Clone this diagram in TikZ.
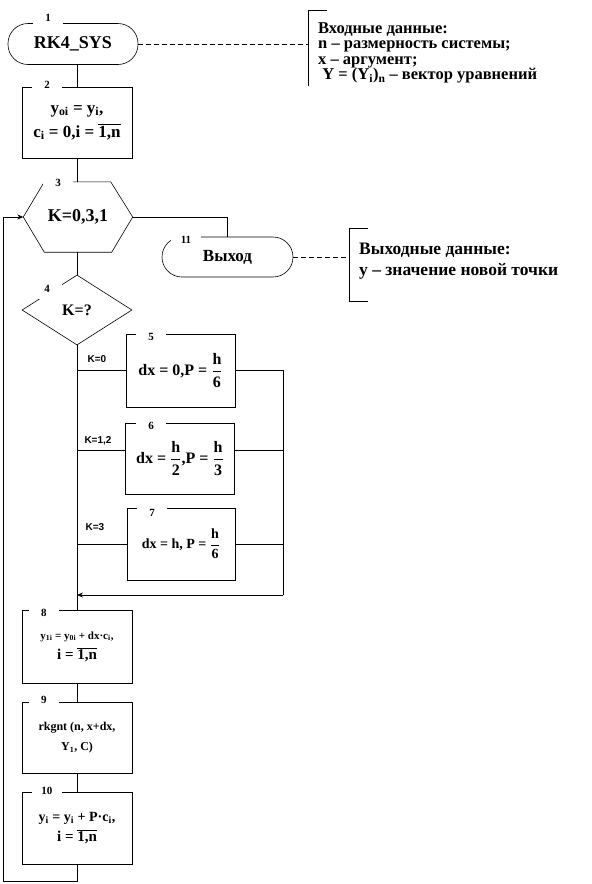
\documentclass[tikz,border=0pt]{standalone}
\usepackage{fontspec}
\setmainfont{Liberation Serif}
\newfontfamily\sanslab{Liberation Sans}
\usetikzlibrary{shapes.geometric,arrows.meta,calc}
\newcommand\myfrac[2]{$\displaystyle\frac{\mbox{#1}}{\mbox{#2}}$}
\newcommand\ovl[1]{$\overline{\mbox{#1}}$}
\begin{document}
\begin{tikzpicture}[x=1pt,y=-1pt,
  every node/.style={inner sep=0pt},
  ln/.style={line width=0.6pt},
  blk/.style={draw, line width=0.6pt, minimum width=110pt, minimum height=72pt, align=center, font=\bfseries\fontsize{16}{24}\selectfont},
  term/.style={draw, line width=0.6pt, rounded corners=20pt, minimum width=130pt, minimum height=41pt, font=\bfseries\fontsize{18}{20}\selectfont},
  numlab/.style={fill=white, minimum width=30pt, minimum height=13pt, font=\bfseries\fontsize{11}{12}\selectfont},
  klab/.style={font=\sanslab\bfseries\fontsize{10}{12}\selectfont},
  note/.style={align=left, anchor=north west},
  arr/.style={-{Stealth[length=6pt,width=5pt]}},
  dsh/.style={line width=0.6pt, dash pattern=on 5pt off 3pt}
]
\useasboundingbox (0,0) rectangle (592,884);

% nodes
\node[term] (n1) at (73,44) {RK4\_SYS};
\node[blk, minimum height=71pt, font=\bfseries\fontsize{17}{24}\selectfont] (n2) at (77,122.5) {y\textsubscript{oi} = y\textsubscript{i},\\ c\textsubscript{i} = 0,i = \ovl{1,n}};
\node[minimum width=109pt, minimum height=70pt, font=\bfseries\fontsize{18}{20}\selectfont] (n3) at (78,217) {\raisebox{3pt}{K=0,3,1}};
\draw[ln] (n3.west) -- ([xshift=21pt]n3.north west) -- ([xshift=-22pt]n3.north east) -- (n3.east) -- ([xshift=-21pt]n3.south east) -- ([xshift=21pt]n3.south west) -- cycle;
\node[draw, ln, diamond, shape aspect=1.57, minimum width=110pt, minimum height=70pt, font=\bfseries\fontsize{16}{20}\selectfont] (n4) at (77,310) {K=?};
\node[blk, minimum width=109pt, minimum height=73pt] (n5) at (180.5,370.5) {dx = 0,P = \myfrac{h}{6}};
\node[blk, minimum width=109pt, minimum height=71pt] (n6) at (180,458.5) {dx = \myfrac{h}{2},P = \myfrac{h}{3}};
\node[blk, minimum width=108pt, minimum height=72pt, font=\bfseries\fontsize{14}{18}\selectfont] (n7) at (181,544) {dx = h, P = \myfrac{h}{6}};
\node[blk, minimum height=73pt, font=\bfseries\fontsize{11}{20}\selectfont] (n8) at (77,646.5) {y\textsubscript{1i} = y\textsubscript{0i} + dx·c\textsubscript{i},\\ {\fontsize{15}{18}\selectfont i = \ovl{1,n}}};
\node[blk, minimum height=71pt, font=\bfseries\fontsize{12}{20}\selectfont] (n9) at (77,737.5) {rkgnt (n, x+dx,\\ Y\textsubscript{1}, C)};
\node[blk, minimum height=72pt, font=\bfseries\fontsize{14}{20}\selectfont] (n10) at (77,828) {y\textsubscript{i} = y\textsubscript{i} + P·c\textsubscript{i},\\ {\fontsize{15}{18}\selectfont i = \ovl{1,n}}};
\node[term, minimum width=131pt, minimum height=40pt, font=\bfseries\fontsize{17}{20}\selectfont] (n11) at (227.5,257) {Выход};

% number labels
\node[numlab] (l1) at (48,18) {1};
\node[numlab] (l2) at (47,85) {2};
\node[numlab] (l3) at (58,183) {3};
\node[numlab, minimum height=20pt] (l4) at (47,289) {4};
\node[numlab] (l5) at (151,337) {5};
\node[numlab] (l6) at (151,426) {6};
\node[numlab] (l7) at (152,513) {7};
\node[numlab] (l8) at (44,613) {8};
\node[numlab] (l9) at (44,700) {9};
\node[numlab] (l10) at (47,791) {10};
\node[numlab] (l11) at (186,240) {11};

% branch labels
\node[klab] (k0) at (97,359) {K=0};
\node[klab] (k12) at (98,441) {K=1,2};
\node[klab] (k3) at (95,527) {K=3};

% coordinates
\coordinate (b12) at ($(n6.west)+(0,-8.5)$);
\coordinate (rvb) at (283,595);
\coordinate (mrg) at (77,595);
\coordinate (lb) at (3,881);

% connectors
\draw[ln] (n1.south -| n2.north) -- (n2.north);
\draw[ln] (n2.south) -- (n2.south |- n3.north);
\draw[ln] (n3.south -| n4.north) -- (n4.north);
\draw[ln] (n4.south) -- (n8.north);
\draw[ln] (n4.south |- n5.west) -- (n5.west);
\draw[ln] (n4.south |- b12) -- (b12);
\draw[ln] (n4.south |- n7.west) -- (n7.west);
\draw[ln] (n5.east) -| (rvb);
\draw[ln] (n6.east |- b12) -- (b12 -| rvb);
\draw[ln] (n7.east) -- (n7.east -| rvb);
\draw[ln,arr] (rvb) -- (mrg);
\draw[ln] (n8.south) -- (n9.north);
\draw[ln] (n9.south) -- (n10.south |- n10.north);
\draw[ln,arr] (n10.south) -- (n10.south |- lb) -- (lb) -- (lb |- n3.west) -- (n3.west);
\draw[ln] (n3.east) -| (n11.north);

% comments
\coordinate (c1t) at (308,10);
\coordinate (c1b) at (308,86);
\coordinate (c1s) at (327,10);
\draw[ln] (c1s) -- (c1t) -- (c1b);
\draw[dsh] (n1.east) -- (n1.east -| c1t);
\node[note, font=\bfseries\fontsize{16.5}{15.5}\selectfont] (t1) at (318,22) {Входные данные:\\n – размерность системы;\\x – аргумент;\\\ Y = (Y\textsubscript{i})\textsubscript{n} – вектор уравнений};

\coordinate (c2t) at (349,228);
\coordinate (c2b) at (349,301);
\coordinate (c2s) at (368,228);
\coordinate (c2u) at (368,301);
\draw[ln] (c2s) -- (c2t) -- (c2b) -- (c2u);
\draw[dsh] (n11.east) -- (n11.east -| c2t);
\node[note, font=\bfseries\fontsize{17.5}{20.5}\selectfont] (t2) at (359,243) {Выходные данные:\\у – значение новой точки};
\end{tikzpicture}
\end{document}
